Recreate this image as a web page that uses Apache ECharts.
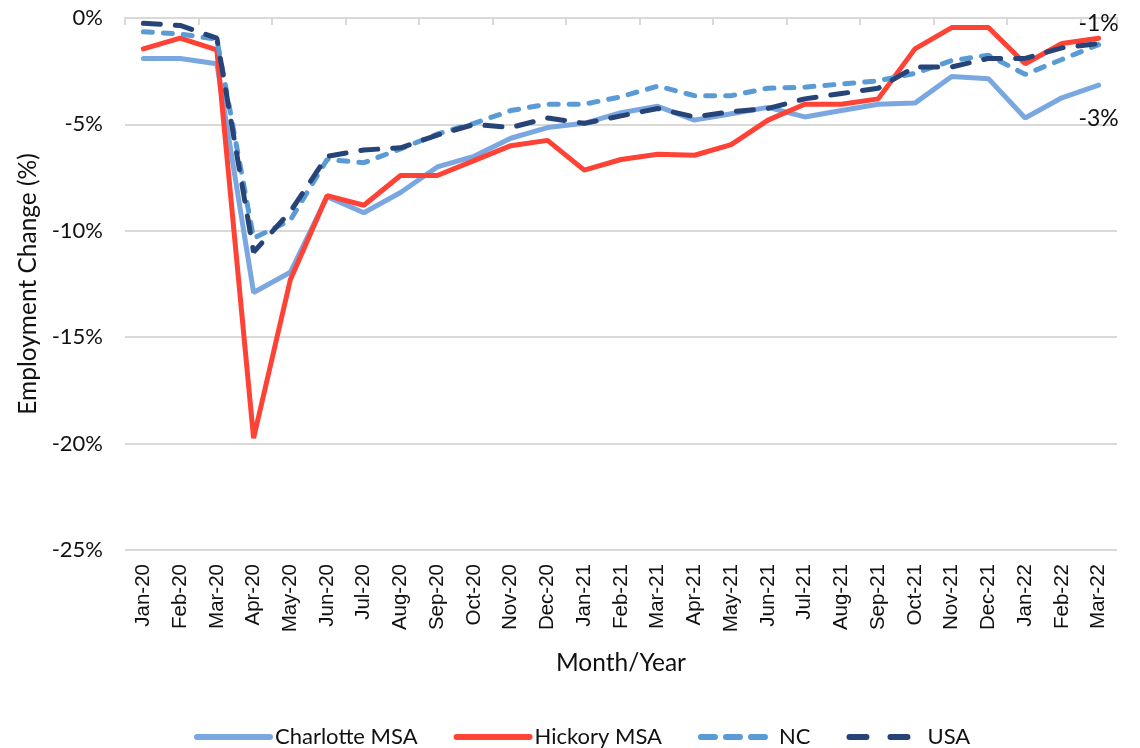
<!DOCTYPE html>
<html lang="en">
<head>
	<meta charset="UTF-8">
	<title>Employment Change</title>
	<script src="https://cdn.jsdelivr.net/npm/echarts@6/dist/echarts.min.js"></script>
	<style>
		html,body{margin:0;padding:0;background:#fff;}
	</style>
</head>
<body>
	<div id="chart" style="width:1140px; height:748px;"></div>
</body>

<script>
	// months on the x axis
	var months = ['Jan-20','Feb-20','Mar-20','Apr-20','May-20','Jun-20','Jul-20','Aug-20','Sep-20','Oct-20','Nov-20','Dec-20',
		'Jan-21','Feb-21','Mar-21','Apr-21','May-21','Jun-21','Jul-21','Aug-21','Sep-21','Oct-21','Nov-21','Dec-21',
		'Jan-22','Feb-22','Mar-22'];
	var yTicks = [0,-5,-10,-15,-20,-25];

	// employment change (%)
	var charlotte = [-1.9,-1.9,-2.15,-12.9,-11.95,-8.4,-9.15,-8.2,-7.0,-6.5,-5.65,-5.15,-4.95,-4.45,-4.15,-4.8,-4.5,-4.2,-4.65,-4.35,-4.05,-4.0,-2.75,-2.85,-4.7,-3.75,-3.15];
	var hickory   = [-1.45,-0.95,-1.5,-19.75,-12.3,-8.35,-8.8,-7.4,-7.4,-6.7,-6.0,-5.75,-7.15,-6.65,-6.4,-6.45,-5.95,-4.8,-4.05,-4.05,-3.8,-1.45,-0.45,-0.45,-2.15,-1.2,-0.95];
	var nc        = [-0.65,-0.75,-1.0,-10.35,-9.5,-6.65,-6.8,-6.15,-5.45,-4.95,-4.35,-4.05,-4.05,-3.7,-3.2,-3.65,-3.65,-3.3,-3.25,-3.1,-2.95,-2.6,-2.0,-1.75,-2.65,-1.95,-1.25];
	var usa       = [-0.25,-0.35,-0.95,-11.0,-9.1,-6.5,-6.2,-6.1,-5.5,-5.0,-5.15,-4.7,-4.95,-4.6,-4.25,-4.65,-4.4,-4.25,-3.8,-3.55,-3.3,-2.3,-2.3,-1.9,-1.9,-1.4,-1.2];

	var FONT = 'Lato, "Liberation Sans", sans-serif';
	var myChart = echarts.init(document.getElementById('chart'));

	// label only the final point
	function lastLabel(arr, pos, dist){
		return arr.map(function(v, i){
			if(i !== arr.length - 1) return v;
			return {
				value: v,
				label: {
					show: true,
					position: pos,
					distance: dist,
					fontFamily: FONT,
					fontSize: 23,
					color: '#111',
					formatter: function(p){ return Math.round(p.value) + '%'; }
				}
			};
		});
	}

	function lineSeries(name, data, color, dash){
		var ls = { color: color, width: 5, cap: 'round' };
		if(dash) ls.type = dash;
		return {
			name: name,
			type: 'line',
			symbol: 'circle',
			symbolSize: 0,
			showSymbol: true,
			data: data,
			lineStyle: ls,
			itemStyle: { color: color }
		};
	}

	var option = {
		animation: false,
		grid: { left: 125, right: 23, top: 18, bottom: 198 },
		legend: {
			top: 721,
			left: 189,
			itemWidth: 73,
			itemHeight: 14,
			itemGap: 36,
			itemStyle: { opacity: 0 },
			lineStyle: { width: 6, cap: 'round' },
			textStyle: { fontFamily: FONT, fontSize: 22, color: '#111' },
			data: [
				{ name: 'Charlotte MSA' },
				{ name: 'Hickory MSA' },
				{ name: 'NC', lineStyle: { type: [14, 11], width: 6, cap: 'round' } },
				{ name: 'USA', lineStyle: { type: [17, 24], width: 6, cap: 'round' } }
			]
		},
		xAxis: [{
			type: 'category',
			data: months,
			position: 'bottom',
			name: 'Month/Year',
			nameLocation: 'middle',
			nameGap: 101,
			nameTextStyle: { fontFamily: FONT, fontSize: 24.5, color: '#111' },
			axisLine: { show: false },
			axisTick: { show: false },
			axisLabel: {
				rotate: 90,
				margin: 14,
				interval: 0,
				fontFamily: '"Liberation Sans", Arial, sans-serif',
				fontSize: 20.5,
				color: '#111'
			}
		},{
			type: 'category',
			data: months,
			position: 'top',
			axisLine: { show: true, lineStyle: { color: '#D9D9D9', width: 2 } },
			axisTick: { show: true, inside: true, length: 7, lineStyle: { color: '#D9D9D9', width: 2 } },
			axisLabel: { show: false }
		}],
		yAxis: {
			type: 'value',
			min: -25,
			max: 0,
			interval: 5,
			name: 'Employment Change (%)',
			nameLocation: 'middle',
			nameGap: 80,
			nameTextStyle: { fontFamily: FONT, fontSize: 24.5, color: '#111' },
			axisLine: { show: false },
			axisTick: { show: false },
			axisLabel: {
				margin: 22,
				fontFamily: FONT,
				fontSize: 22,
				color: '#111',
				formatter: function(v){ return yTicks.indexOf(v) > -1 ? v + '%' : ''; }
			},
			splitLine: { lineStyle: { color: '#D9D9D9', width: 2 } }
		},
		series: [
			lineSeries('Charlotte MSA', lastLabel(charlotte, 'bottom', 22), '#7BA7E0'),
			lineSeries('Hickory MSA', lastLabel(hickory, 'top', 3), '#FF4236'),
			lineSeries('NC', nc, '#5B9BD5', [9, 11]),
			lineSeries('USA', usa, '#264478', [17, 15])
		]
	};
	myChart.setOption(option);
</script>
</html>
